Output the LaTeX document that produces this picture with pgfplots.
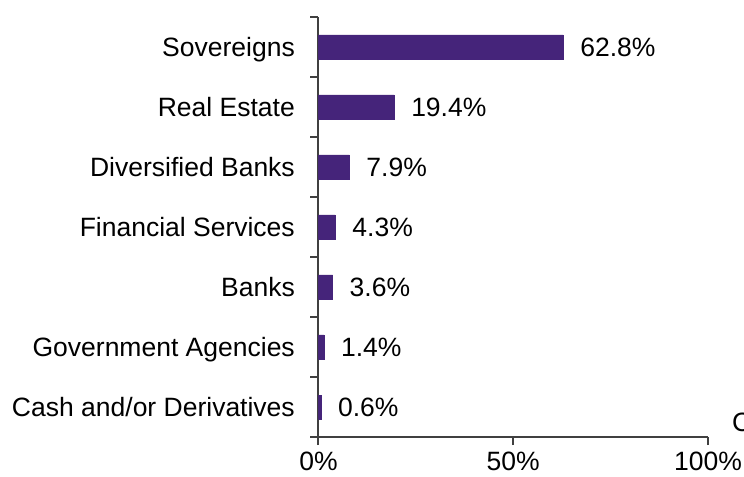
\documentclass[border=0pt]{standalone}
\usepackage{pgfplots}
\pgfplotsset{compat=1.18}
\usepackage{fontspec}
\setmainfont{Liberation Sans}
\definecolor{barpurple}{RGB}{69,36,122}
\definecolor{axisgray}{RGB}{64,64,64}
\begin{document}
\fontsize{26.6}{31}\selectfont
\begin{tikzpicture}
\useasboundingbox (-318.5bp,-40bp) rectangle (425.5bp,437bp);
\begin{axis}[
    at={(0,0)}, anchor=south west,
    scale only axis,
    width=389.5bp, height=420bp,
    xbar, bar width=24bp,
    xmin=0, xmax=100,
    ymin=-0.5, ymax=6.5,
    axis x line=bottom, axis y line=left,
    axis line style={-, draw=axisgray, line width=2bp},
    tick style={draw=axisgray, line width=2bp},
    tick align=outside,
    major tick length=8bp,
    xtick={0,50,100},
    xticklabels={0\%,50\%,100\%},
    xticklabel style={inner sep=0pt, yshift=-7bp},
    ytick={-0.5,0.5,...,6.5},
    yticklabels={},
    extra y ticks={0,1,2,3,4,5,6},
    extra y tick labels={Cash and/or Derivatives, Government Agencies, Banks, Financial Services, Diversified Banks, Real Estate, Sovereigns},
    extra y tick style={major tick length=0pt, yticklabel style={anchor=base east, inner sep=0pt, xshift=-23.5bp, yshift=-9.3bp}},
    point meta=explicit symbolic,
    nodes near coords,
    nodes near coords style={anchor=base west, inner sep=0pt, xshift=17bp, yshift=-9.3bp, black},
    font=\fontsize{26.6}{31}\selectfont,
    ]
    \addplot[fill=barpurple, draw=barpurple] coordinates {
        (0.6,0) [0.6\%]
        (1.4,1) [1.4\%]
        (3.6,2) [3.6\%]
        (4.3,3) [4.3\%]
        (7.9,4) [7.9\%]
        (19.4,5) [19.4\%]
        (62.8,6) [62.8\%]
    };
\end{axis}
\node[anchor=west, inner sep=0pt] at (413.5bp,15bp) {C};
\end{tikzpicture}
\end{document}
